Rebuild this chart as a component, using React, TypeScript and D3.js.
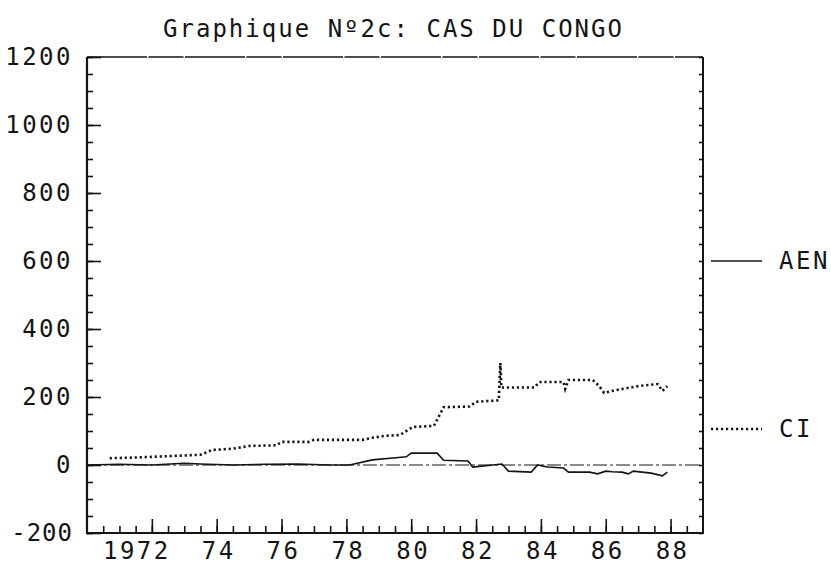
import React, { useEffect, useRef } from 'react';
import * as d3 from 'd3';

// Crédit intérieur (CI), dotted series
const ciDates = [1970.7, 1971.5, 1972.0, 1972.5, 1973.0, 1973.5, 1973.85, 1974.5, 1975.0, 1975.85, 1976.0, 1976.85, 1977.0, 1978.5, 1978.8, 1979.2, 1979.65, 1979.9, 1980.05, 1980.7, 1981.0, 1981.8, 1982.0, 1982.7, 1982.75, 1982.78, 1983.8, 1983.95, 1984.7, 1984.75, 1984.85, 1985.6, 1985.8, 1985.95, 1986.3, 1987.0, 1987.6, 1987.75, 1987.9];
const ciValues = [20, 22, 24, 26, 28, 30, 44, 48, 56, 58, 68, 68, 74, 74, 80, 86, 88, 103, 112, 115, 170, 172, 186, 190, 300, 228, 228, 244, 244, 224, 250, 250, 232, 212, 220, 232, 238, 218, 232];

// Avoirs extérieurs nets (AEN), solid series
const aenDates = [1970.0, 1971.0, 1972.0, 1973.0, 1973.5, 1974.5, 1975.5, 1976.5, 1977.5, 1978.1, 1978.8, 1979.6, 1979.85, 1980.0, 1980.8, 1981.0, 1981.75, 1981.9, 1982.8, 1983.0, 1983.7, 1983.9, 1984.2, 1984.7, 1984.85, 1985.5, 1985.75, 1986.0, 1986.2, 1986.5, 1986.7, 1986.85, 1987.4, 1987.75, 1987.9];
const aenValues = [0, 2, 0, 5, 3, 0, 2, 3, 0, 0, 15, 22, 24, 35, 35, 14, 12, -6, 3, -18, -21, 0, -6, -9, -21, -21, -26, -18, -20, -21, -26, -18, -24, -32, -21];

const yTicks = [-200, 0, 200, 400, 600, 800, 1000, 1200];
const xTickYears = [1972, 1974, 1976, 1978, 1980, 1982, 1984, 1986, 1988];
const xTickLabels = ['1972', '74', '76', '78', '80', '82', '84', '86', '88'];
const seriesNames = ['AEN', 'CI'];

const FONT = 'DejaVu Sans Mono, monospace';
const INK = '#141414';

const Chart = () => {
  const ref = useRef<SVGSVGElement>(null);

  useEffect(() => {
    d3.select(ref.current).selectAll('*').remove();
    const svg = d3.select(ref.current);

    const left = 87, right = 703, top = 57, bottom = 533;

    const x = d3.scaleLinear().domain([1970, 1989]).range([left, right]);
    const y = d3.scaleLinear().domain([-200, 1200]).range([bottom, top]);

    // title
    svg.append('text')
      .attr('x', 163)
      .attr('y', 37)
      .attr('textLength', 459)
      .attr('lengthAdjust', 'spacing')
      .attr('font-family', FONT)
      .attr('font-size', 24)
      .attr('fill', INK)
      .text('Graphique Nº2c: CAS DU CONGO');

    // frame
    svg.append('line')
      .attr('x1', left).attr('x2', right).attr('y1', top).attr('y2', top)
      .attr('stroke', INK).attr('stroke-width', 1.3)
      .attr('stroke-dasharray', '60,1.5,35,1.5');
    svg.append('line')
      .attr('x1', right).attr('x2', right).attr('y1', top).attr('y2', bottom + 1)
      .attr('stroke', INK).attr('stroke-width', 2);

    // left axis: major + minor ticks pointing inward
    const minorY = d3.range(-200, 1201, 50);
    svg.append('g')
      .attr('transform', `translate(${left},0)`)
      .call(d3.axisRight(y).tickValues(minorY).tickSize(6).tickFormat(() => ''))
      .call(g => g.select('.domain').remove());
    svg.append('g')
      .attr('transform', `translate(${left},0)`)
      .call(d3.axisRight(y).tickValues(yTicks).tickSize(14).tickFormat(() => ''))
      .call(g => g.select('.domain').remove());
    svg.append('line')
      .attr('x1', left).attr('x2', left).attr('y1', top).attr('y2', bottom + 1)
      .attr('stroke', INK).attr('stroke-width', 2.2);

    // right axis small ticks
    svg.append('g')
      .attr('transform', `translate(${right},0)`)
      .call(d3.axisLeft(y).tickValues(minorY).tickSize(4).tickFormat(() => ''))
      .call(g => g.select('.domain').remove());

    // y labels
    svg.append('g')
      .selectAll('text')
      .data(yTicks)
      .enter().append('text')
      .attr('x', 73)
      .attr('y', d => y(d) + 8)
      .attr('text-anchor', 'end')
      .attr('font-family', FONT)
      .attr('font-size', 24)
      .attr('letter-spacing', d => (d < 0 ? 1 : 2.5))
      .attr('fill', INK)
      .text(d => String(d));

    // bottom axis: half-year minor ticks, even-year majors
    const minorX = d3.range(1970.5, 1988.6, 0.5);
    svg.append('g')
      .attr('transform', `translate(0,${bottom})`)
      .call(d3.axisTop(x).tickValues(minorX).tickSize(7).tickFormat(() => ''))
      .call(g => g.select('.domain').remove());
    svg.append('g')
      .attr('transform', `translate(0,${bottom})`)
      .call(d3.axisTop(x).tickValues(xTickYears).tickSize(14).tickFormat(() => ''))
      .call(g => g.select('.domain').remove());
    svg.append('line')
      .attr('x1', left).attr('x2', right + 1).attr('y1', bottom).attr('y2', bottom)
      .attr('stroke', INK).attr('stroke-width', 2.2);

    svg.selectAll('.tick line')
      .attr('stroke', INK)
      .attr('stroke-width', 1.6);

    // x labels
    svg.append('g')
      .selectAll('text')
      .data(xTickYears)
      .enter().append('text')
      .attr('x', (d, i) => x(d) + (i === 0 ? -15 : 2))
      .attr('y', 559)
      .attr('text-anchor', 'middle')
      .attr('font-family', FONT)
      .attr('font-size', 24)
      .attr('letter-spacing', 2.5)
      .attr('fill', INK)
      .text((d, i) => xTickLabels[i]);

    // zero reference line (dash-dot)
    svg.append('line')
      .attr('x1', x(1970)).attr('x2', x(1989))
      .attr('y1', y(0)).attr('y2', y(0))
      .attr('stroke', INK).attr('stroke-width', 1)
      .attr('stroke-dasharray', '14,3,3,3');

    const aenLine = d3.line<number>()
      .x(d => x(aenDates[d]))
      .y(d => y(aenValues[d]));
    const ciLine = d3.line<number>()
      .x(d => x(ciDates[d]))
      .y(d => y(ciValues[d]));

    svg.append('path')
      .datum(d3.range(aenDates.length))
      .attr('fill', 'none')
      .attr('stroke', INK)
      .attr('stroke-width', 1.6)
      .attr('d', aenLine);

    svg.append('path')
      .datum(d3.range(ciDates.length))
      .attr('fill', 'none')
      .attr('stroke', INK)
      .attr('stroke-width', 2.6)
      .attr('stroke-dasharray', '2.2,2.8')
      .attr('d', ciLine);

    // legend
    const legend = [
      { name: seriesNames[0], y: 261, dash: null, width: 1.6 },
      { name: seriesNames[1], y: 429, dash: '2.2,2.8', width: 2.6 },
    ];
    legend.forEach(l => {
      svg.append('line')
        .attr('x1', 711).attr('x2', 762)
        .attr('y1', l.y).attr('y2', l.y)
        .attr('stroke', INK)
        .attr('stroke-width', l.width)
        .attr('stroke-dasharray', l.dash);
      svg.append('text')
        .attr('x', 779)
        .attr('y', l.y + 8)
        .attr('font-family', FONT)
        .attr('font-size', 24)
        .attr('letter-spacing', 2.5)
        .attr('fill', INK)
        .text(l.name);
    });
  }, []);

  return (
    <svg ref={ref} width="831" height="565"
      style={{ position: 'absolute', left: 0, top: 0, background: '#fff' }}></svg>
  );
};

export default function App() {
  return <Chart />;
}
